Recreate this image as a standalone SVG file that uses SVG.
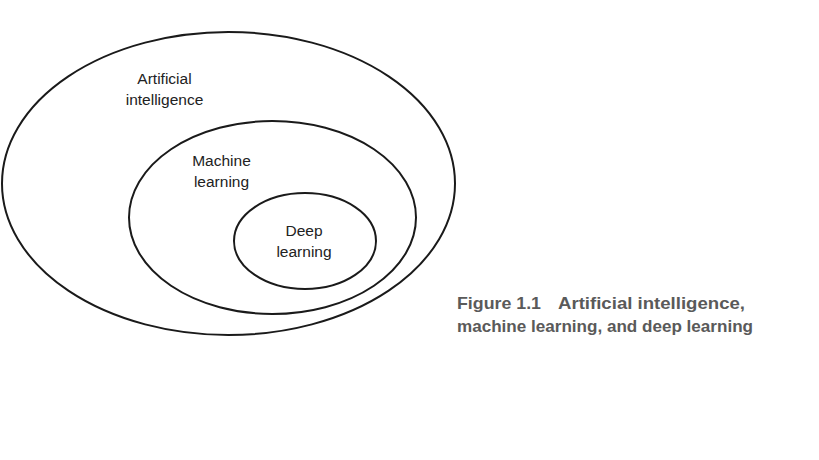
<svg xmlns="http://www.w3.org/2000/svg" width="819" height="460" viewBox="0 0 819 460">
<style>
.ring{fill:none;stroke:#1a1a1a;stroke-width:2}
.lbl{font-family:"Liberation Sans",Arial,sans-serif;font-size:15.5px;fill:#222;text-anchor:middle}
.cap{font-family:"Liberation Sans",Arial,sans-serif;font-size:16.5px;font-weight:bold;fill:#5a5a5a}
</style>
<rect width="819" height="460" fill="#fff"/>
<g id="ai">
<ellipse class="ring" cx="228.5" cy="183.5" rx="226.5" ry="151.5"/>
<text class="lbl" x="164.5" y="84">Artificial</text>
<text class="lbl" x="164.5" y="105">intelligence</text>
</g>
<g id="ml">
<ellipse class="ring" cx="272.5" cy="217.5" rx="143.5" ry="96.5"/>
<text class="lbl" x="221.5" y="166">Machine</text>
<text class="lbl" x="221.5" y="187">learning</text>
</g>
<g id="dl">
<ellipse class="ring" cx="305" cy="241" rx="71" ry="48"/>
<text class="lbl" x="304" y="236">Deep</text>
<text class="lbl" x="304" y="257">learning</text>
</g>
<g id="connectors"></g>
<g id="caption">
<text class="cap" x="457" y="309" textLength="84" lengthAdjust="spacingAndGlyphs">Figure 1.1</text>
<text class="cap" x="558" y="309" textLength="187" lengthAdjust="spacingAndGlyphs">Artificial intelligence,</text>
<text class="cap" x="457" y="332" textLength="296" lengthAdjust="spacingAndGlyphs">machine learning, and deep learning</text>
</g>
</svg>
